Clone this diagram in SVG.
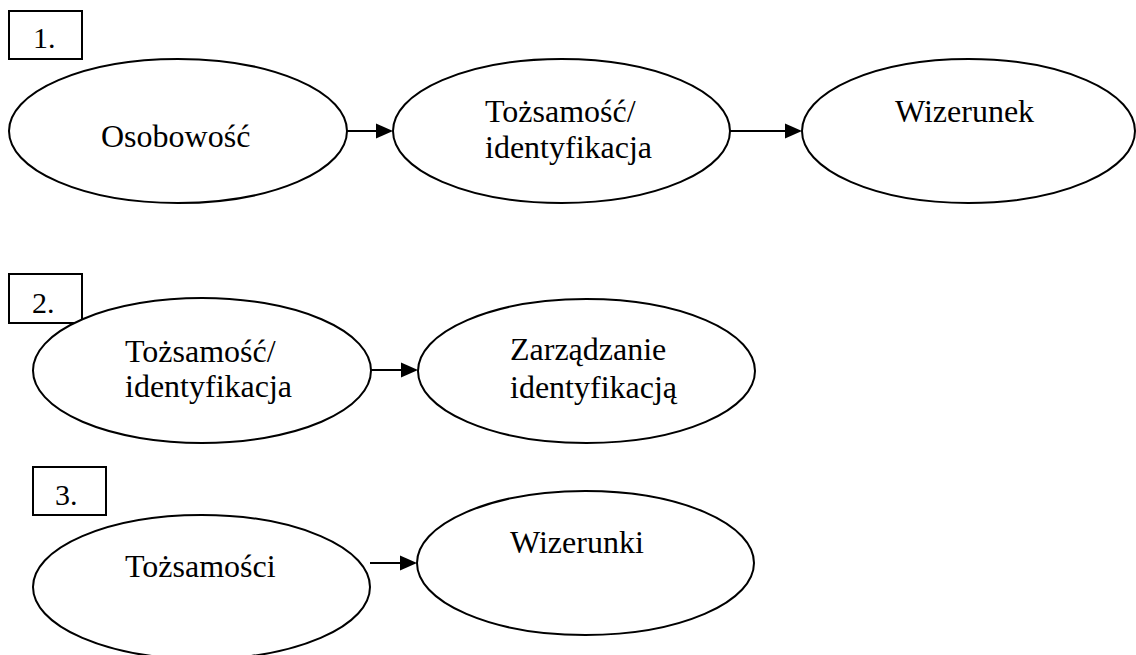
<svg xmlns="http://www.w3.org/2000/svg" width="1136" height="655" viewBox="0 0 1136 655">
<style>
.n{fill:#fff;stroke:#000;stroke-width:2}
.b{fill:#fff;stroke:#000;stroke-width:2}
.t{font-family:'Liberation Serif';font-size:32px;fill:#000}
.l{font-family:'Liberation Serif';font-size:30px;fill:#000}
.c{stroke:#000;stroke-width:2;fill:none}
.h{fill:#000;stroke:none}
</style>
<rect width="1136" height="655" fill="#fff"/>
<g id="connectors">
<line class="c" x1="347" y1="131" x2="378" y2="131"/><path class="h" d="M376,123.5 L393,131 L376,138.5 Z"/>
<line class="c" x1="730" y1="131" x2="787" y2="131"/><path class="h" d="M785,123.5 L802,131 L785,138.5 Z"/>
<line class="c" x1="371" y1="370" x2="403" y2="370"/><path class="h" d="M401,362.5 L418,370 L401,377.5 Z"/>
<line class="c" x1="370" y1="563" x2="402" y2="563"/><path class="h" d="M400,555.5 L417,563 L400,570.5 Z"/>
</g>
<g id="label1"><rect class="b" x="9" y="11" width="73" height="48"/><text class="l" x="33" y="48">1.</text></g>
<g id="osobowosc"><ellipse class="n" cx="178" cy="131" rx="169" ry="72"/><text class="t" x="101" y="147">Osobowość</text></g>
<g id="tozsamosc1"><ellipse class="n" cx="561.5" cy="131" rx="168.5" ry="72"/><text class="t" x="485" y="122">Tożsamość/</text><text class="t" x="485" y="158">identyfikacja</text></g>
<g id="wizerunek"><ellipse class="n" cx="968.5" cy="131" rx="166.5" ry="72"/><text class="t" x="895" y="122">Wizerunek</text></g>
<g id="label2"><rect class="b" x="9" y="274" width="73" height="49"/><text class="l" x="32" y="313">2.</text></g>
<g id="tozsamosc2"><ellipse class="n" cx="202" cy="370.5" rx="169" ry="72.5"/><text class="t" x="125" y="362">Tożsamość/</text><text class="t" x="125" y="397">identyfikacja</text></g>
<g id="zarzadzanie"><ellipse class="n" cx="586.5" cy="371" rx="168.5" ry="72"/><text class="t" x="510" y="360">Zarządzanie</text><text class="t" x="510" y="398">identyfikacją</text></g>
<g id="label3"><rect class="b" x="33" y="467" width="73" height="48"/><text class="l" x="55" y="505">3.</text></g>
<g id="tozsamosci"><ellipse class="n" cx="201.5" cy="587" rx="168.5" ry="72"/><text class="t" x="125" y="577">Tożsamości</text></g>
<g id="wizerunki"><ellipse class="n" cx="585.5" cy="563" rx="168.5" ry="72"/><text class="t" x="510" y="553">Wizerunki</text></g>
</svg>
